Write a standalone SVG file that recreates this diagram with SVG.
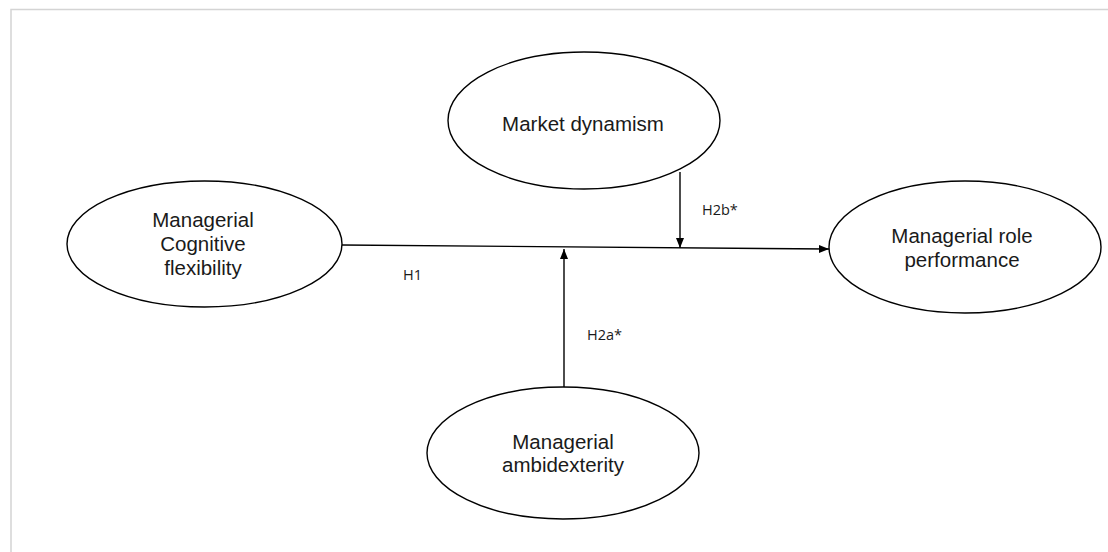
<svg xmlns="http://www.w3.org/2000/svg" width="1108" height="552" viewBox="0 0 1108 552">
<defs>
<style>
.node ellipse{fill:#fff;stroke:#000;stroke-width:1.4}
.node text{font-family:"Liberation Sans",Arial,sans-serif;font-size:20.5px;fill:#1a1a1a;text-anchor:middle}
.conn line{stroke:#000;stroke-width:1.4}
.lbl{font-family:"Open Sans","Liberation Sans",sans-serif;font-size:14.5px;fill:#1a1a1a}
</style>
<marker id="arr" viewBox="0 0 10 10" refX="10" refY="5" markerWidth="10" markerHeight="10" markerUnits="userSpaceOnUse" orient="auto">
<path d="M0,1 L10,5 L0,9 Z" fill="#000"/>
</marker>
</defs>
<rect x="0" y="0" width="1108" height="552" fill="#fff"/>
<path d="M11,560 L11,9.5 L1110,9.5" fill="none" stroke="#d4d4d4" stroke-width="1.5"/>
<g class="conn" id="connectors">
<line x1="342" y1="245" x2="829" y2="249" marker-end="url(#arr)"/>
<line x1="680" y1="172" x2="680" y2="248" marker-end="url(#arr)"/>
<line x1="564" y1="387" x2="564" y2="249" marker-end="url(#arr)"/>
<text class="lbl" x="403" y="280">H1</text>
<text class="lbl" x="702" y="215">H2b*</text>
<text class="lbl" x="587" y="340">H2a*</text>
</g>
<g class="node" id="node-cognitive">
<ellipse cx="204.5" cy="244" rx="137.5" ry="63"/>
<text x="203" y="227">Managerial</text>
<text x="203" y="251">Cognitive</text>
<text x="203" y="275">flexibility</text>
</g>
<g class="node" id="node-market">
<ellipse cx="584" cy="120.5" rx="136" ry="68.5"/>
<text x="583" y="131">Market dynamism</text>
</g>
<g class="node" id="node-role">
<ellipse cx="965" cy="247" rx="136" ry="66"/>
<text x="962" y="243">Managerial role</text>
<text x="962" y="267">performance</text>
</g>
<g class="node" id="node-ambidexterity">
<ellipse cx="563" cy="453" rx="136" ry="66"/>
<text x="563" y="449">Managerial</text>
<text x="563" y="472">ambidexterity</text>
</g>
</svg>
